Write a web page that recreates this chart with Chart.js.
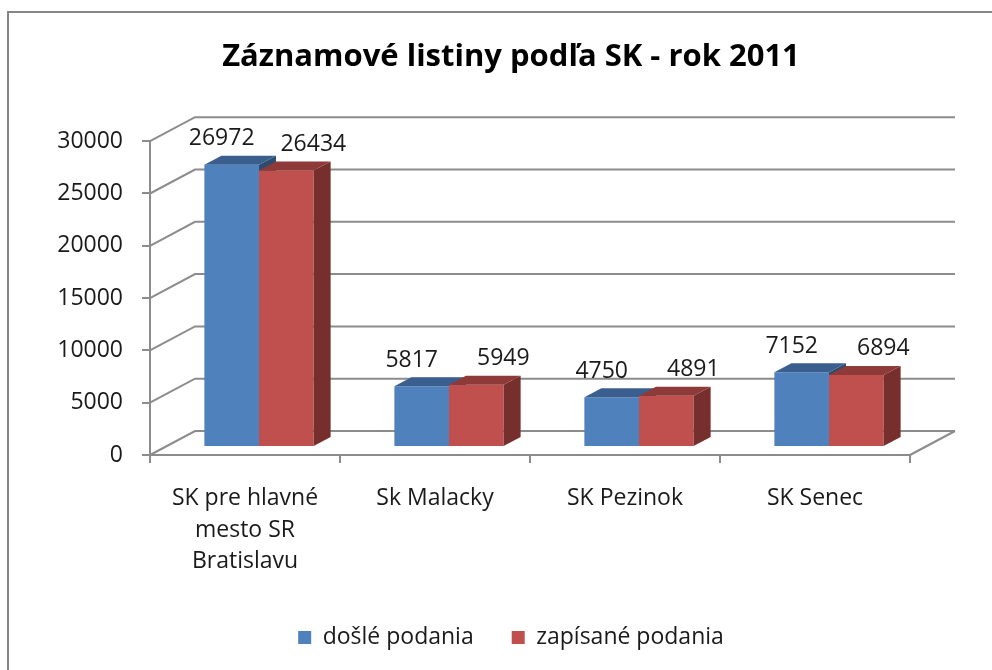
<!DOCTYPE html>
<html>
<head>
<meta charset="utf-8">
<script src="https://cdn.jsdelivr.net/npm/chart.js@4.4.0/dist/chart.umd.min.js"></script>
<style>
  html, body { margin: 0; padding: 0; background: #fff; overflow: hidden; width: 992px; height: 670px; }
  #frame { position: absolute; left: 7px; top: 11px; width: 1008px; height: 700px;
           border: 2px solid #868686; box-sizing: border-box; background: #fff; }
  #frame canvas { display: block; }
</style>
</head>
<body>
<div id="frame"><canvas id="chart"></canvas></div>
<script>
/* ---- data ---- */
const categories = [['SK pre hlavné', 'mesto SR', 'Bratislavu'], 'Sk Malacky', 'SK Pezinok', 'SK Senec'];
const seriesNames = ['došlé podania', 'zapísané podania'];
const dosle = [26972, 5817, 4750, 7152];
const zapisane = [26434, 5949, 4891, 6894];
const yTicks = [0, 5000, 10000, 15000, 20000, 25000, 30000];

/* ---- 3D look ---- */
const WALL = { dx: 45, dy: -24 };   // back wall offset from the front plane
const BAR = { dx: 14, dy: -8 };     // bars stand mid-depth
const DEPTH = { dx: 17, dy: -9 };   // bar thickness
const GRID = '#8c8c8c';
const TEXT = '#1a1a1a';
const FONT = "'Open Sans', sans-serif";
const faces = [
  { front: '#4F81BD', top: '#3A5F8E', side: '#2E4B70' },
  { front: '#C0504D', top: '#8E3A38', side: '#772F2D' }
];
const labelShift = [-10, 27];       // Excel nudges the value labels sideways

function drawBox(ctx, bar, f) {
  const { x, y, base, width } = bar.getProps(['x', 'y', 'base', 'width'], true);
  const l = x - width / 2, r = x + width / 2;
  bar.draw(ctx);
  ctx.fillStyle = f.side;
  ctx.beginPath();
  ctx.moveTo(r, y);
  ctx.lineTo(r + DEPTH.dx, y + DEPTH.dy);
  ctx.lineTo(r + DEPTH.dx, base + DEPTH.dy);
  ctx.lineTo(r, base);
  ctx.closePath();
  ctx.fill();
  ctx.fillStyle = f.top;
  ctx.beginPath();
  ctx.moveTo(l, y);
  ctx.lineTo(l + DEPTH.dx, y + DEPTH.dy);
  ctx.lineTo(r + DEPTH.dx, y + DEPTH.dy);
  ctx.lineTo(r, y);
  ctx.closePath();
  ctx.fill();
}

const box3d = {
  id: 'box3d',
  beforeDatasetsDraw(chart) {
    const { ctx, chartArea: a, scales: { y } } = chart;
    ctx.save();
    ctx.strokeStyle = GRID;
    ctx.lineWidth = 2;
    ctx.beginPath();
    yTicks.forEach(v => {
      const py = y.getPixelForValue(v);
      ctx.moveTo(a.left, py);
      ctx.lineTo(a.left + WALL.dx, py + WALL.dy);
      ctx.lineTo(a.right + WALL.dx, py + WALL.dy);
    });
    ctx.moveTo(a.right, a.bottom);
    ctx.lineTo(a.right + WALL.dx, a.bottom + WALL.dy);
    ctx.stroke();
    ctx.restore();
  },
  // skip the default pass: boxes are painted below in left-to-right order
  beforeDatasetDraw() { return false; },
  afterDatasetsDraw(chart) {
    const ctx = chart.ctx;
    const metas = chart.data.datasets.map((ds, i) => chart.getDatasetMeta(i));
    ctx.save();
    ctx.translate(BAR.dx, BAR.dy);
    categories.forEach((c, j) => {
      metas.forEach((meta, i) => drawBox(ctx, meta.data[j], faces[i]));
    });
    ctx.restore();

    ctx.save();
    ctx.font = `23px ${FONT}`;
    ctx.fillStyle = TEXT;
    ctx.textAlign = 'center';
    ctx.textBaseline = 'middle';
    chart.data.datasets.forEach((ds, i) => {
      metas[i].data.forEach((bar, j) => {
        const { x, y } = bar.getProps(['x', 'y'], true);
        ctx.fillText(String(ds.data[j]), x + BAR.dx + labelShift[i], y + BAR.dy - 26);
      });
    });
    ctx.restore();
  }
};

new Chart(document.getElementById('chart'), {
  type: 'bar',
  data: {
    labels: categories,
    datasets: [
      { label: seriesNames[0], data: dosle, backgroundColor: faces[0].front, borderWidth: 0 },
      { label: seriesNames[1], data: zapisane, backgroundColor: faces[1].front, borderWidth: 0 }
    ]
  },
  options: {
    responsive: true,
    maintainAspectRatio: false,
    animation: false,
    layout: { padding: { left: 0, right: 0, top: 0, bottom: 50 } },
    datasets: { bar: { categoryPercentage: 0.575, barPercentage: 1 } },
    scales: {
      x: {
        grid: { drawOnChartArea: false, drawTicks: true, tickLength: 8, color: GRID, lineWidth: 2 },
        border: { display: true, color: GRID, width: 2 },
        ticks: { color: TEXT, padding: 19, maxRotation: 0, autoSkip: false,
                 font: { family: FONT, size: 23, lineHeight: 1.39 } },
        afterFit(s) { s.height = 133; }
      },
      y: {
        min: 0, max: 30000,
        grid: { drawOnChartArea: false, drawTicks: true, tickLength: 8, color: GRID, lineWidth: 2 },
        border: { display: true, color: GRID, width: 2 },
        ticks: { stepSize: 5000, color: TEXT, padding: 19, callback: v => String(v),
                 font: { family: FONT, size: 23 } },
        afterFit(s) { s.width = 141; }
      },
      pad: {
        type: 'linear', position: 'right', display: true, min: 0, max: 1,
        grid: { display: false }, border: { display: false }, ticks: { display: false },
        afterFit(s) { s.width = 103; }
      }
    },
    plugins: {
      title: {
        display: true,
        text: 'Záznamové listiny podľa SK - rok 2011',
        color: '#000',
        font: { family: FONT, size: 31, weight: 'bold', lineHeight: 1.2 },
        padding: { top: 26, bottom: 65 }
      },
      legend: {
        position: 'bottom',
        labels: { boxWidth: 13, boxHeight: 13, padding: 38, color: TEXT,
                  font: { family: FONT, size: 23 } }
      },
      tooltip: { enabled: false }
    }
  },
  plugins: [box3d]
});
</script>
</body>
</html>
